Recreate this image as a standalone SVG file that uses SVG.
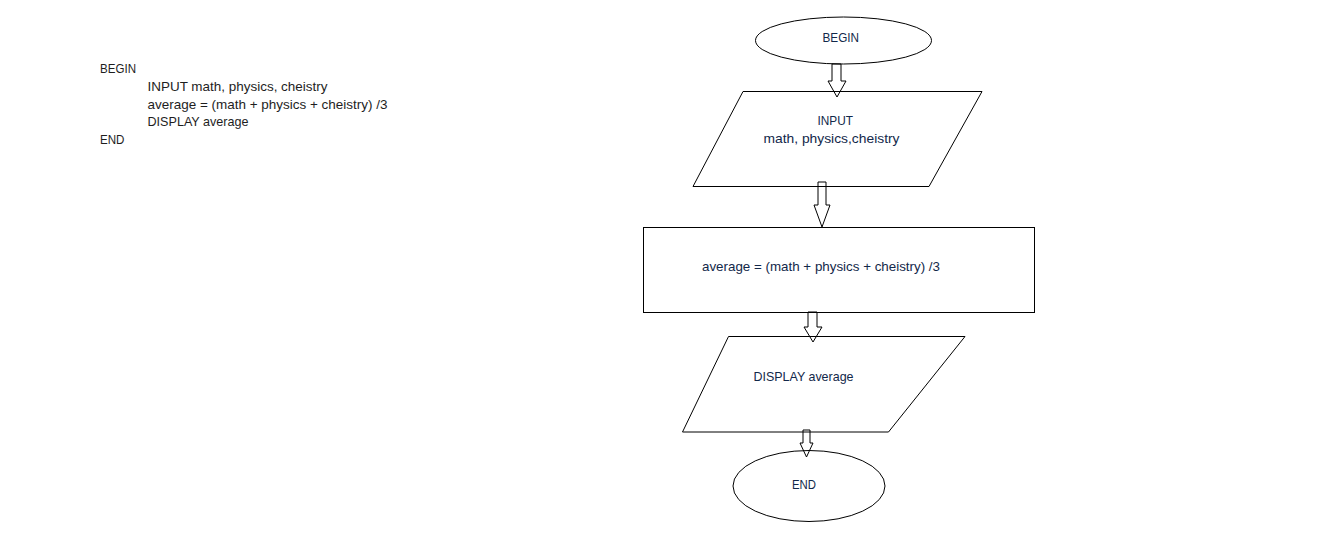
<svg xmlns="http://www.w3.org/2000/svg" width="1343" height="554" viewBox="0 0 1343 554">
<style>
.bg{fill:#ffffff}
.shape{fill:none;stroke:#000000;stroke-width:1}
.arrow{fill:#ffffff;stroke:#000000;stroke-width:1}
.t{font-family:"Liberation Sans",Arial,sans-serif;font-size:13px;fill:#1e1e1e}
.ft{font-family:"Liberation Sans",Arial,sans-serif;font-size:13px;fill:#12284a}
</style>
<rect class="bg" x="0" y="0" width="1343" height="554"/>
<g id="pseudocode">
<text class="t" x="100" y="72.5" textLength="36" lengthAdjust="spacingAndGlyphs">BEGIN</text>
<text class="t" x="147.5" y="90.5" textLength="180" lengthAdjust="spacingAndGlyphs">INPUT math, physics, cheistry</text>
<text class="t" x="147.5" y="108.5" textLength="240" lengthAdjust="spacingAndGlyphs">average = (math + physics + cheistry) /3</text>
<text class="t" x="147.5" y="125.5" textLength="101" lengthAdjust="spacingAndGlyphs">DISPLAY average</text>
<text class="t" x="100" y="143.5" textLength="24.5" lengthAdjust="spacingAndGlyphs">END</text>
</g>
<g id="connectors">
<polygon class="arrow" points="832,64 841,64 841,81 846,81 837,97 828,81 832,81"/>
<polygon class="arrow" points="818,182 826,182 826,205 830,205 822,227 814,205 818,205"/>
<polygon class="arrow" points="808,312 817,312 817,327 822,327 813,342 804,327 808,327"/>
<polygon class="arrow" points="803,430 810,430 810,443 813,443 806.5,457 800,443 803,443"/>
</g>
<g id="begin">
<ellipse class="shape" cx="843.5" cy="40.5" rx="88" ry="23.5"/>
<text class="ft" x="822.5" y="42" textLength="36.5" lengthAdjust="spacingAndGlyphs">BEGIN</text>
</g>
<g id="input">
<polygon class="shape" points="743,91.5 982,91.5 929,186.5 693,186.5"/>
<text class="ft" x="817.5" y="125" textLength="35.5" lengthAdjust="spacingAndGlyphs">INPUT</text>
<text class="ft" x="763.5" y="143" textLength="136" lengthAdjust="spacingAndGlyphs">math, physics,cheistry</text>
</g>
<g id="compute">
<rect class="shape" x="643.5" y="227.5" width="391" height="85"/>
<text class="ft" x="702" y="271" textLength="238" lengthAdjust="spacingAndGlyphs">average = (math + physics + cheistry) /3</text>
</g>
<g id="display">
<polygon class="shape" points="728.5,336.5 965,336.5 888.5,432 682.5,432"/>
<text class="ft" x="753.5" y="381" textLength="100" lengthAdjust="spacingAndGlyphs">DISPLAY average</text>
</g>
<g id="end">
<ellipse class="shape" cx="809" cy="486" rx="76" ry="35.5"/>
<text class="ft" x="792" y="488.5" textLength="24" lengthAdjust="spacingAndGlyphs">END</text>
</g>
</svg>
